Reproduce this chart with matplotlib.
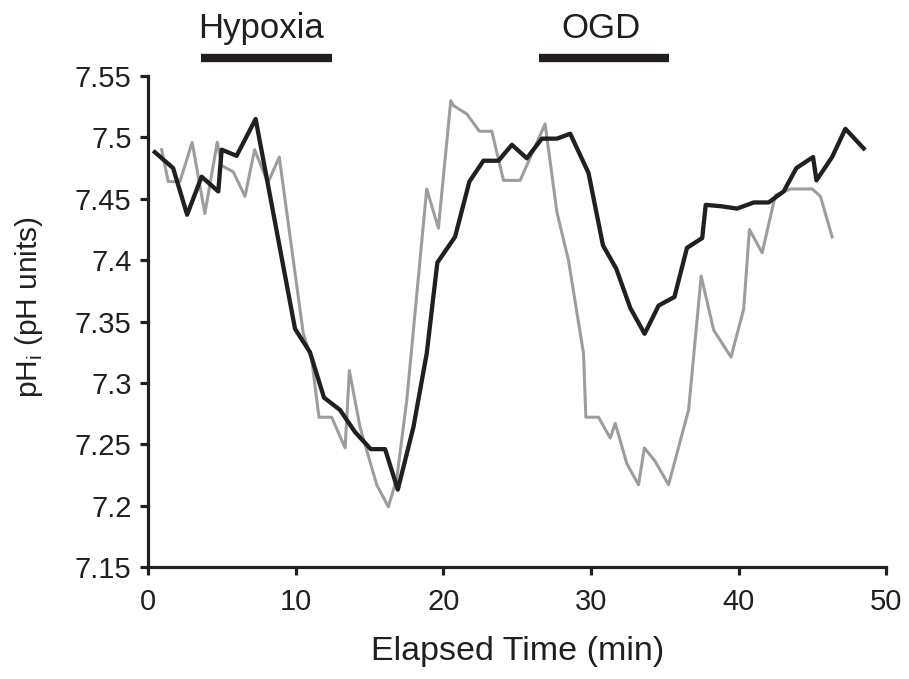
import matplotlib
matplotlib.use('Agg')
import matplotlib.pyplot as plt

# cell 1 (black trace)
black_time = [0.45, 1.69, 2.64, 3.62, 4.75, 4.98, 5.99, 7.28, 9.95, 10.96,
              11.91, 12.99, 14.01, 15.08, 16.05, 16.91, 17.97, 18.87, 19.59, 20.79,
              21.76, 22.71, 23.73, 24.64, 25.65, 26.67, 27.69, 28.59, 29.83, 30.81,
              31.71, 32.66, 33.63, 34.58, 35.65, 36.50, 37.53, 37.77, 38.76, 39.89,
              41.02, 42.03, 43.05, 43.91, 45.04, 45.27, 46.33, 47.23, 48.47]
black_ph = [7.488, 7.475, 7.437, 7.468, 7.456, 7.490, 7.485, 7.515, 7.344, 7.325,
            7.288, 7.278, 7.260, 7.246, 7.246, 7.213, 7.264, 7.324, 7.398, 7.419,
            7.464, 7.481, 7.481, 7.494, 7.483, 7.499, 7.499, 7.503, 7.471, 7.412,
            7.393, 7.361, 7.340, 7.363, 7.370, 7.410, 7.418, 7.445, 7.444, 7.442,
            7.447, 7.447, 7.456, 7.475, 7.484, 7.465, 7.484, 7.507, 7.491]

# cell 2 (grey trace)
grey_time = [0.91, 1.36, 2.15, 2.98, 3.84, 4.68, 4.98, 5.76, 6.56, 7.21,
             8.11, 8.88, 10.51, 11.08, 11.57, 12.43, 13.34, 13.63, 14.35, 15.48,
             16.27, 16.84, 17.52, 18.87, 19.66, 20.50, 20.68, 21.59, 22.44, 23.28,
             24.07, 25.20, 26.89, 27.69, 28.47, 29.49, 29.65, 30.51, 31.30, 31.64,
             32.43, 33.22, 33.61, 34.35, 35.25, 36.61, 37.46, 38.31, 39.48, 40.34,
             40.73, 41.59, 42.49, 43.51, 44.98, 45.54, 46.33]
grey_ph = [7.490, 7.464, 7.464, 7.496, 7.438, 7.496, 7.477, 7.472, 7.452, 7.490,
           7.463, 7.484, 7.340, 7.319, 7.272, 7.272, 7.247, 7.310, 7.264, 7.217,
           7.199, 7.222, 7.286, 7.458, 7.426, 7.530, 7.526, 7.519, 7.505, 7.505,
           7.465, 7.465, 7.511, 7.439, 7.400, 7.324, 7.272, 7.272, 7.255, 7.267,
           7.234, 7.217, 7.247, 7.236, 7.217, 7.278, 7.387, 7.343, 7.321, 7.360,
           7.425, 7.406, 7.453, 7.458, 7.458, 7.452, 7.419]

# treatment periods (min)
periods = ["Hypoxia", "OGD"]
period_start = [3.6, 26.45]
period_end = [12.45, 35.3]
period_label_x = [7.65, 30.65]

x_ticks = [0, 10, 20, 30, 40, 50]
y_ticks = [7.15, 7.2, 7.25, 7.3, 7.35, 7.4, 7.45, 7.5, 7.55]
y_labels = ["7.15", "7.2", "7.25", "7.3", "7.35", "7.4", "7.45", "7.5", "7.55"]

dark = "#231f20"
plt.rcParams['font.family'] = ['Liberation Sans', 'DejaVu Sans']

fig = plt.figure(figsize=(9.09, 6.79), dpi=100)
ax = fig.add_axes([0.163, 0.165, 0.812, 0.723])

ax.plot(grey_time, grey_ph, color="#9d9d9d", linewidth=2.2, zorder=2)
ax.plot(black_time, black_ph, color=dark, linewidth=3.1, zorder=3)

ax.set_xlim(0, 50)
ax.set_ylim(7.15, 7.55)
ax.set_xticks(x_ticks)
ax.set_yticks(y_ticks)
ax.set_yticklabels(y_labels)

for side in ["top", "right"]:
    ax.spines[side].set_visible(False)
for side in ["left", "bottom"]:
    ax.spines[side].set_linewidth(2.3)
    ax.spines[side].set_color(dark)
ax.tick_params(direction="out", length=6, width=2.3, color=dark,
               labelsize=21, labelcolor=dark)
ax.tick_params(axis="x", pad=9)
ax.tick_params(axis="y", pad=6)

ax.set_xlabel("Elapsed Time (min)", fontsize=24.5, color=dark)
ax.xaxis.set_label_coords(0.5, -0.141)
ax.set_ylabel("pH$_\\mathregular{i}$ (pH units)", fontsize=21.5, color=dark)
ax.yaxis.set_label_coords(-0.14, 0.53)

for name, t0, t1, tx in zip(periods, period_start, period_end, period_label_x):
    ax.plot([t0, t1], [7.565, 7.565], color=dark, linewidth=6, solid_capstyle="butt",
            clip_on=False)
    ax.text(tx, 7.581, name, ha="center", va="baseline", fontsize=25,
            color=dark, clip_on=False)

fig.savefig("out.png", dpi=100)
